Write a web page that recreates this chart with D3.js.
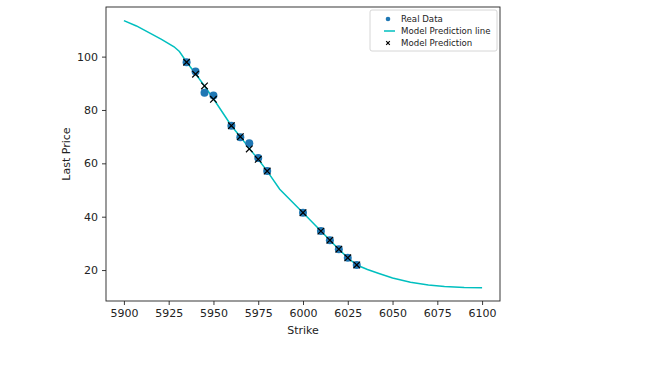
<!DOCTYPE html>
<html>
<head>
<meta charset="utf-8">
<script src="https://cdn.jsdelivr.net/npm/d3@7"></script>
<style>
body { margin: 0; background: #fff; }
text { font-family: "DejaVu Sans", sans-serif; fill: #222; }
</style>
</head>
<body>
<div id="chart"></div>
<script>
// data
var realStrike = [5935, 5940, 5945, 5950, 5960, 5965, 5970, 5975, 5980, 6000, 6010, 6015, 6020, 6025, 6030];
var realPrice  = [97.9, 94.4, 86.5, 85.4, 74.1, 69.8, 67.5, 62.0, 57.1, 41.5, 34.6, 31.2, 27.8, 24.6, 21.9];
var predPrice  = [97.9, 93.4, 89.0, 84.0, 74.1, 70.0, 65.4, 61.5, 57.1, 41.5, 34.6, 31.2, 27.8, 24.6, 21.9];

var lineStrike = [5900, 5907, 5914, 5921, 5928, 5931, 5935, 5940, 5945, 5950, 5960, 5965, 5970, 5975, 5980, 5987, 6000, 6010, 6015, 6020, 6025, 6030, 6036, 6042, 6050, 6060, 6070, 6079, 6090, 6100];
var linePrice  = [113.5, 111.5, 109.0, 106.5, 103.7, 101.9, 98.0, 93.6, 89.0, 84.2, 74.1, 70.0, 65.6, 61.5, 57.1, 50.3, 41.5, 34.6, 31.2, 27.8, 24.6, 21.9, 20.2, 18.8, 17.0, 15.4, 14.4, 13.8, 13.5, 13.4];

var xTicks = [5900, 5925, 5950, 5975, 6000, 6025, 6050, 6075, 6100];
var yTicks = [20, 40, 60, 80, 100];

var svgWidth = 670;
var svgHeight = 365;
var margin = {top: 7, right: 170, bottom: 64, left: 106};
var width = svgWidth - margin.left - margin.right;
var height = svgHeight - margin.top - margin.bottom;

var svg = d3.select("#chart")
    .append("svg")
    .attr("width", svgWidth)
    .attr("height", svgHeight);

var chartGroup = svg.append("g")
    .attr("transform", `translate(${margin.left},${margin.top})`);

var xScale = d3.scaleLinear()
    .domain([5890, 6110])
    .range([0, width]);
var yScale = d3.scaleLinear()
    .domain([8.4, 118.6])
    .range([height, 0]);

var bottomAxis = d3.axisBottom(xScale).tickValues(xTicks).tickSize(4).tickPadding(4).tickFormat(d3.format("d"));
var leftAxis = d3.axisLeft(yScale).tickValues(yTicks).tickSize(4).tickPadding(4);

var xAxis = chartGroup.append("g")
    .attr("transform", `translate(0,${height})`)
    .call(bottomAxis);
var yAxis = chartGroup.append("g")
    .call(leftAxis);

[xAxis, yAxis].forEach(function(a) {
    a.select(".domain").remove();
    a.selectAll("line").attr("stroke", "#222").attr("stroke-width", 0.9);
    a.selectAll("text").style("font-size", "11px").style("font-family", "DejaVu Sans").attr("fill", "#222");
});

// frame
chartGroup.append("rect")
    .attr("width", width)
    .attr("height", height)
    .attr("fill", "none")
    .attr("stroke", "#222")
    .attr("stroke-width", 0.9);

var lineData = lineStrike.map((s, i) => ({x: s, y: linePrice[i]}));
var line = d3.line().x(d => xScale(d.x)).y(d => yScale(d.y));

chartGroup.append("path")
    .datum(lineData)
    .attr("d", line)
    .attr("fill", "none")
    .attr("stroke", "#00bfbf")
    .attr("stroke-width", 1.5);

var realData = realStrike.map((s, i) => ({x: s, y: realPrice[i]}));
var predData = realStrike.map((s, i) => ({x: s, y: predPrice[i]}));

chartGroup.selectAll("circle.real")
    .data(realData)
    .enter()
    .append("circle")
    .attr("class", "real")
    .attr("cx", d => xScale(d.x))
    .attr("cy", d => yScale(d.y))
    .attr("r", 4)
    .attr("fill", "#1f77b4");

var xMark = function(sel, r) {
    sel.append("path")
        .attr("d", `M${-r},${-r}L${r},${r}M${-r},${r}L${r},${-r}`)
        .attr("stroke", "#000")
        .attr("stroke-width", 1.2)
        .attr("fill", "none");
};

chartGroup.selectAll("g.pred")
    .data(predData)
    .enter()
    .append("g")
    .attr("class", "pred")
    .attr("transform", d => `translate(${xScale(d.x)},${yScale(d.y)})`)
    .call(xMark, 3.3);

// axis labels
chartGroup.append("text")
    .attr("x", width / 2)
    .attr("y", height + 33)
    .attr("text-anchor", "middle")
    .style("font-size", "11px")
    .text("Strike");

chartGroup.append("text")
    .attr("transform", `translate(-36,${height / 2}) rotate(-90)`)
    .attr("text-anchor", "middle")
    .style("font-size", "11px")
    .text("Last Price");

// legend
var legend = svg.append("g").attr("transform", "translate(370,10)");
legend.append("rect")
    .attr("width", 127)
    .attr("height", 41)
    .attr("rx", 2)
    .attr("fill", "#fff")
    .attr("stroke", "#ccc")
    .attr("stroke-width", 0.8);

var legendLabels = ["Real Data", "Model Prediction line", "Model Prediction"];
var legendY = [9, 21, 33];

legendLabels.forEach(function(label, i) {
    var g = legend.append("g").attr("transform", `translate(0,${legendY[i]})`);
    if (i === 0) {
        g.append("circle").attr("cx", 18).attr("cy", 0).attr("r", 2.3).attr("fill", "#1f77b4");
    } else if (i === 1) {
        g.append("line").attr("x1", 14).attr("x2", 25).attr("y1", 0).attr("y2", 0)
            .attr("stroke", "#00bfbf").attr("stroke-width", 1.5);
    } else {
        g.append("g").attr("transform", "translate(18,0)").call(xMark, 1.8);
    }
    g.append("text")
        .attr("x", 31)
        .attr("y", 3)
        .style("font-size", "8.6px")
        .text(label);
});
</script>
</body>
</html>
